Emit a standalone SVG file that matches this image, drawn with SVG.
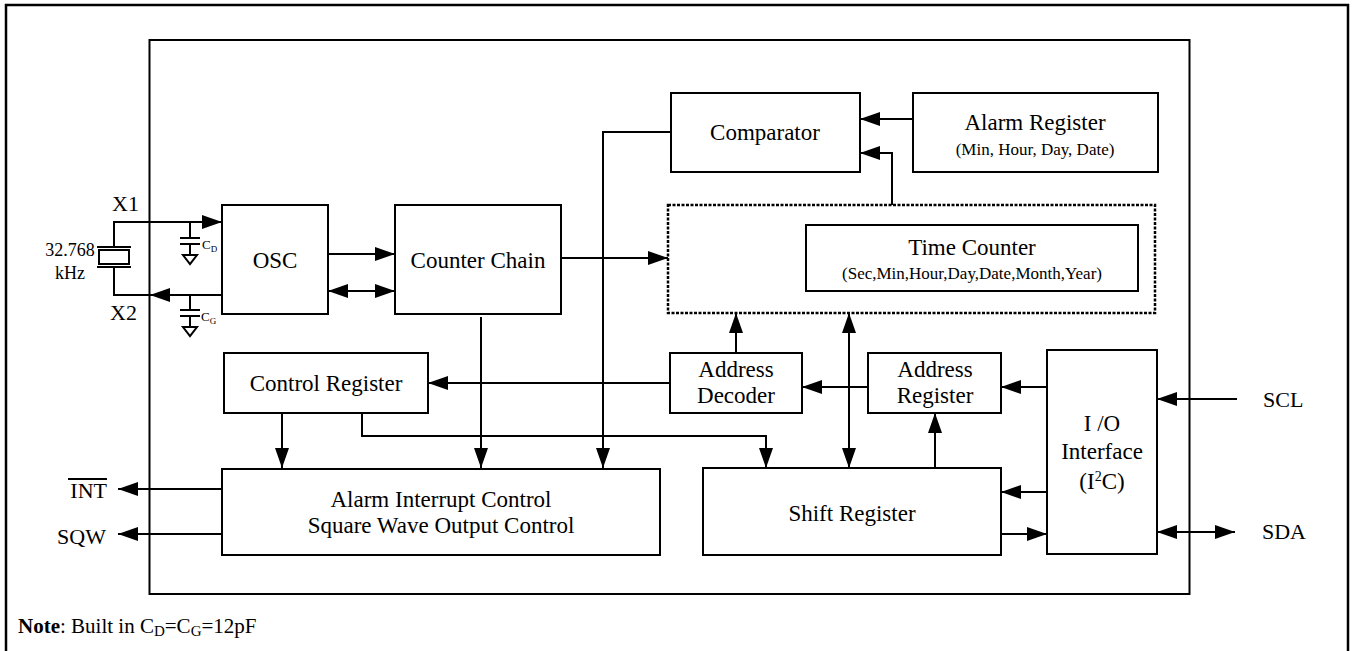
<svg xmlns="http://www.w3.org/2000/svg" width="1352" height="651" viewBox="0 0 1352 651">
<style>
.box{fill:#fff;stroke:#000;stroke-width:2}
.ln{fill:none;stroke:#000;stroke-width:2}
.t{font-family:"Liberation Serif","Times New Roman",serif;fill:#000;text-anchor:middle}
.big{font-size:23px}
.sm{font-size:17px}
.lab{font-family:"Liberation Serif","Times New Roman",serif;fill:#000;font-size:22px}
.arr{marker-end:url(#ah)}
.bi{marker-start:url(#ah);marker-end:url(#ah)}
</style>
<defs>
<marker id="ah" markerUnits="userSpaceOnUse" markerWidth="21" markerHeight="14" refX="20" refY="7" orient="auto-start-reverse" viewBox="0 0 21 14">
<path d="M0,0 L20,7 L0,14 z" fill="#000"/>
</marker>
</defs>
<rect width="1352" height="651" fill="#fff"/>
<rect x="6" y="5" width="1342" height="650" fill="none" stroke="#000" stroke-width="2.5"/>
<rect id="chip" x="149.5" y="40" width="1040" height="554" fill="none" stroke="#000" stroke-width="2"/>

<g id="crystal">
<path class="ln" d="M97,247 H131 M97,267 H131"/>
<rect x="99" y="250" width="30" height="14" fill="#fff" stroke="#000" stroke-width="2"/>
<text class="t" x="70" y="256" style="font-size:18px">32.768</text>
<text class="t" x="70" y="279" style="font-size:18px">kHz</text>
</g>
<g id="x1"><text class="lab" x="112" y="211">X1</text></g>
<g id="x2"><text class="lab" x="110" y="320">X2</text></g>

<g id="cd">
<path class="ln" d="M190,222 V238 M180,238 H200 M180,244 H200 M190,244 V255"/>
<path class="ln" d="M183,255 H197 L190,264 Z"/>
<text class="lab" x="202" y="249" style="font-size:13px">C<tspan dy="3" style="font-size:9px">D</tspan></text>
</g>
<g id="cg">
<path class="ln" d="M190,295 V310 M180,310 H200 M180,316 H200 M190,316 V327"/>
<path class="ln" d="M183,327 H197 L190,336 Z"/>
<text class="lab" x="201" y="321" style="font-size:13px">C<tspan dy="3" style="font-size:9px">G</tspan></text>
</g>

<g id="osc"><rect class="box" x="222" y="205" width="106" height="109"/><text class="t big" x="275" y="268">OSC</text></g>
<g id="counter-chain"><rect class="box" x="395" y="205" width="166" height="109"/><text class="t big" x="478" y="268">Counter Chain</text></g>
<g id="comparator"><rect class="box" x="671" y="93" width="189" height="79"/><text class="t big" x="765" y="140">Comparator</text></g>
<g id="alarm-register"><rect class="box" x="913" y="93" width="245" height="79"/><text class="t big" x="1035" y="130">Alarm Register</text><text class="t sm" x="1035" y="155">(Min, Hour, Day, Date)</text></g>
<g id="time-block"><rect x="668" y="205" width="487" height="108" fill="none" stroke="#000" stroke-width="2.5" stroke-dasharray="3,1.5"/></g>
<g id="time-counter"><rect class="box" x="806" y="225" width="332" height="66"/><text class="t big" x="972" y="255">Time Counter</text><text class="t sm" x="972" y="279">(Sec,Min,Hour,Day,Date,Month,Year)</text></g>
<g id="control-register"><rect class="box" x="224" y="353" width="204" height="60"/><text class="t big" x="326" y="391">Control Register</text></g>
<g id="address-decoder"><rect class="box" x="670" y="353" width="132" height="60"/><text class="t big" x="736" y="377">Address</text><text class="t big" x="736" y="403">Decoder</text></g>
<g id="address-register"><rect class="box" x="868" y="353" width="133" height="60"/><text class="t big" x="935" y="377">Address</text><text class="t big" x="935" y="403">Register</text></g>
<g id="io-interface"><rect class="box" x="1047" y="350" width="110" height="204"/><text class="t big" x="1102" y="431">I /O</text><text class="t big" x="1102" y="459">Interface</text><text class="t big" x="1102" y="489">(I<tspan dy="-8" style="font-size:14px">2</tspan><tspan dy="8">C)</tspan></text></g>
<g id="alarm-interrupt"><rect class="box" x="222" y="469" width="438" height="86"/><text class="t big" x="441" y="507">Alarm Interrupt Control</text><text class="t big" x="441" y="533">Square Wave Output Control</text></g>
<g id="shift-register"><rect class="box" x="703" y="468" width="298" height="87"/><text class="t big" x="852" y="521">Shift Register</text></g>

<g id="int"><text class="lab" x="107" y="498" text-anchor="end">INT</text><path class="ln" d="M68,479 H107" stroke-width="1.5"/></g>
<g id="sqw"><text class="lab" x="106" y="544" text-anchor="end">SQW</text></g>
<g id="scl"><text class="lab" x="1263" y="407">SCL</text></g>
<g id="sda"><text class="lab" x="1262" y="539">SDA</text></g>

<g id="connectors">
<path class="ln arr" d="M114,247 V222 H222"/>
<path class="ln arr" d="M222,295 H150"/>
<path class="ln" d="M150,295 H114 V267"/>
<path class="ln arr" d="M328,254 H395"/>
<path class="ln bi" d="M328,291 H395"/>
<path class="ln arr" d="M561,258 H668"/>
<path class="ln arr" d="M671,132 H603 V468"/>
<path class="ln arr" d="M913,119 H860"/>
<path class="ln arr" d="M892,205 V153 H860"/>
<path class="ln arr" d="M481,317 V468"/>
<path class="ln arr" d="M670,383 H428"/>
<path class="ln arr" d="M282,413 V468"/>
<path class="ln arr" d="M362,413 V436 H766 V468"/>
<path class="ln arr" d="M736,353 V313"/>
<path class="ln bi" d="M849,313 V468"/>
<path class="ln arr" d="M868,387 H802"/>
<path class="ln arr" d="M1047,387 H1001"/>
<path class="ln arr" d="M935,468 V413"/>
<path class="ln arr" d="M1047,492 H1001"/>
<path class="ln arr" d="M1001,534 H1047"/>
<path class="ln arr" d="M1237,399 H1157"/>
<path class="ln bi" d="M1157,532 H1235"/>
<path class="ln arr" d="M222,489 H118"/>
<path class="ln arr" d="M222,534 H118"/>
</g>

<g id="note"><text class="lab" x="18" y="633" style="font-size:21px"><tspan font-weight="bold">Note</tspan>: Built in C<tspan dy="3" style="font-size:15px">D</tspan><tspan dy="-3">=C</tspan><tspan dy="3" style="font-size:15px">G</tspan><tspan dy="-3">=12pF</tspan></text></g>
</svg>
